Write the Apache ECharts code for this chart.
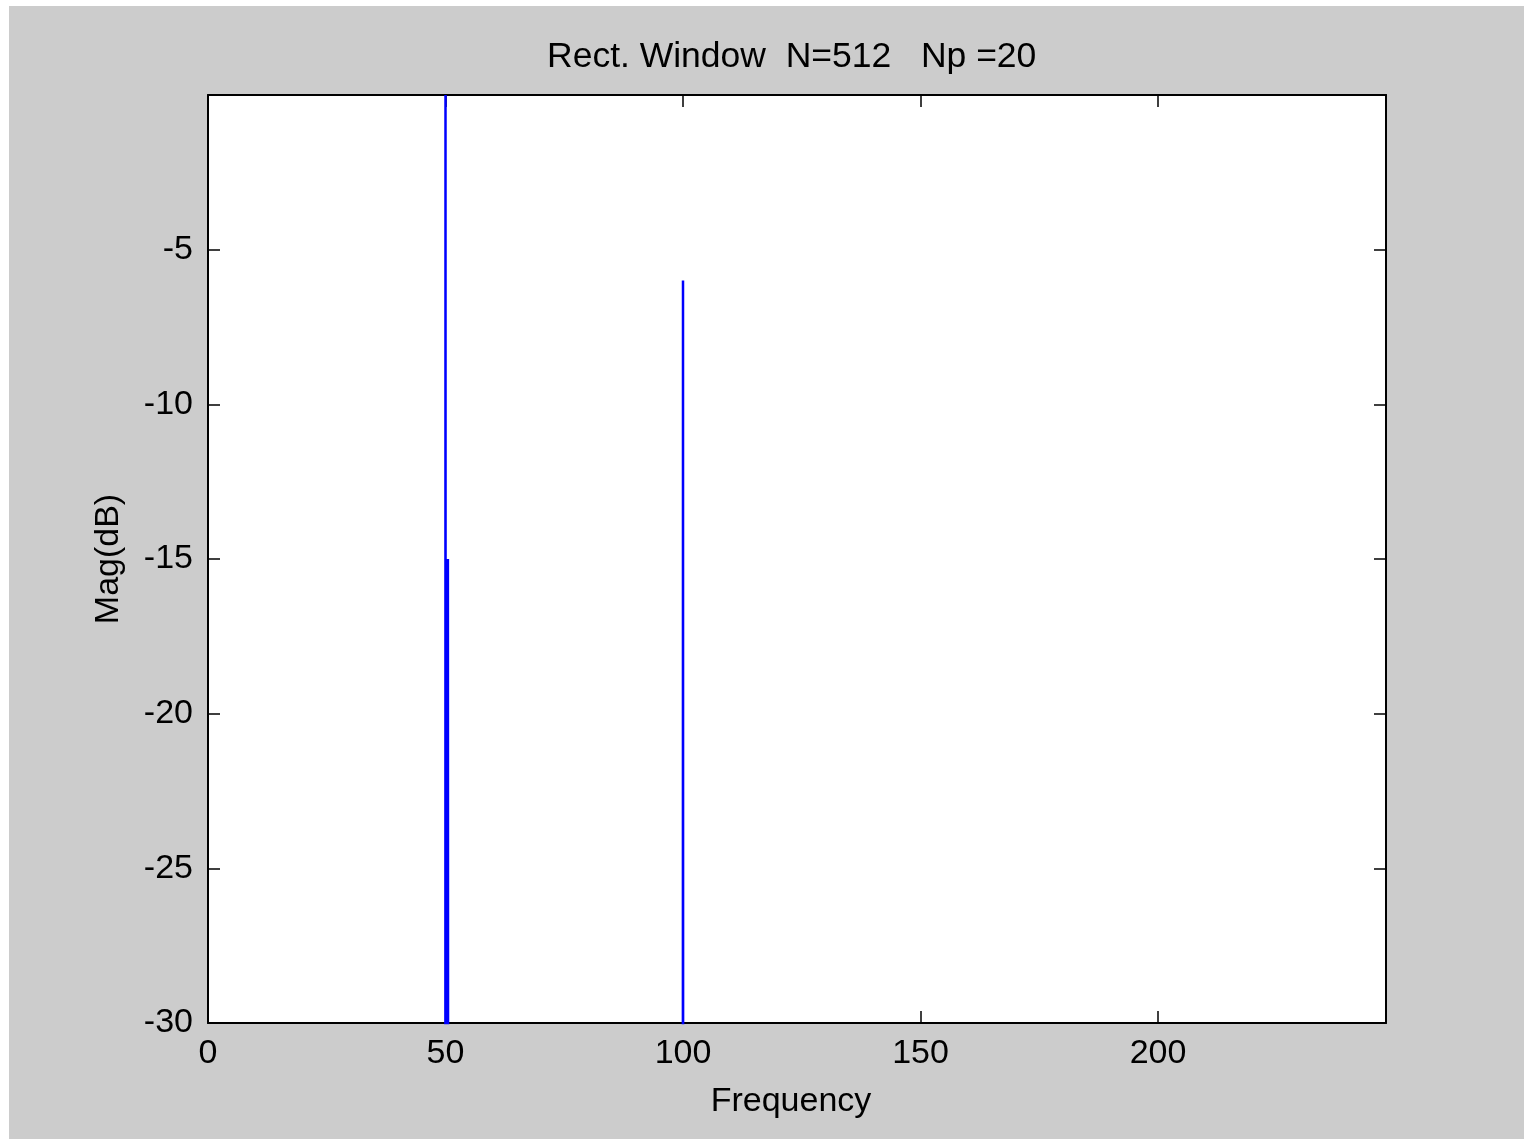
<!DOCTYPE html>
<html>
<head>
<meta charset="utf-8">
<script src="https://cdn.jsdelivr.net/npm/echarts@6/dist/echarts.min.js"></script>
<style>
  html, body { margin: 0; padding: 0; background: #fff; }
  .fig {
    position: absolute;
    left: 9px;
    top: 6px;
    width: 1515px;
    height: 1133px;
    background: #cccccc;
  }
</style>
</head>
<body>
<div class="fig" id="chart"></div>
<script>
// spectrum points (Hz, dB) - values below -30 are off scale
const freq = [49.95, 50.0, 50.05, 50.4, 50.5, 50.6, 99.95, 100.0, 100.05]
const magDb = [-60, 0, -60, -60, -15, -60, -60, -6, -60]
const xTicks = [0, 50, 100, 150, 200]
const yTicks = [-5, -10, -15, -20, -25, -30]

const font = 'Liberation Sans, Arial, sans-serif'

const points = freq.map((f, i) => [f, magDb[i]])

const frame = {
  lineStyle: { color: '#000', width: 2 }
}

const option = {
  backgroundColor: '#cccccc',
  animation: false,
  title: {
    text: 'Rect. Window  N=512   Np =20',
    left: 533,
    top: 28,
    textStyle: { color: '#000', fontSize: 35.5, fontWeight: 'normal', fontFamily: font }
  },
  grid: {
    left: 199,
    top: 89,
    right: 138,
    bottom: 116,
    show: true,
    backgroundColor: '#fff',
    borderWidth: 0
  },
  xAxis: [
    {
      type: 'value',
      min: 0,
      max: 248,
      interval: 50,
      position: 'bottom',
      name: 'Frequency',
      nameLocation: 'middle',
      nameGap: 62,
      nameTextStyle: { color: '#000', fontSize: 34, fontFamily: font, padding: [0, 12, 0, 0] },
      axisLine: { show: true, onZero: false, ...frame },
      axisTick: { show: true, inside: true, length: 12, lineStyle: { color: '#000', width: 1.5 } },
      axisLabel: {
        color: '#000',
        fontSize: 34,
        fontFamily: font,
        margin: 14,
        formatter: (v) => (xTicks.includes(v) ? String(v) : '')
      },
      splitLine: { show: false }
    },
    {
      type: 'value',
      min: 0,
      max: 248,
      interval: 50,
      position: 'top',
      axisLine: { show: true, onZero: false, ...frame },
      axisTick: { show: true, inside: true, length: 12, lineStyle: { color: '#000', width: 1.5 } },
      axisLabel: { show: false },
      splitLine: { show: false }
    }
  ],
  yAxis: [
    {
      type: 'value',
      min: -30,
      max: 0,
      interval: 5,
      position: 'left',
      name: 'Mag(dB)',
      nameLocation: 'middle',
      nameGap: 82,
      nameTextStyle: { color: '#000', fontSize: 34, fontFamily: font },
      axisLine: { show: true, onZero: false, ...frame },
      axisTick: { show: true, inside: true, length: 12, lineStyle: { color: '#000', width: 1.5 } },
      axisLabel: {
        color: '#000',
        fontSize: 34,
        fontFamily: font,
        margin: 15,
        formatter: (v) => (yTicks.includes(v) ? String(v) : '')
      },
      splitLine: { show: false }
    },
    {
      type: 'value',
      min: -30,
      max: 0,
      interval: 5,
      position: 'right',
      axisLine: { show: true, onZero: false, ...frame },
      axisTick: { show: true, inside: true, length: 12, lineStyle: { color: '#000', width: 1.5 } },
      axisLabel: { show: false },
      splitLine: { show: false }
    }
  ],
  series: [
    {
      type: 'line',
      xAxisIndex: 0,
      yAxisIndex: 0,
      data: points,
      symbol: 'none',
      clip: true,
      lineStyle: { color: '#0000ff', width: 2.5 }
    }
  ]
}

const myChart = echarts.init(document.getElementById('chart'))
myChart.setOption(option)
window.onresize = myChart.resize
</script>
</body>
</html>
